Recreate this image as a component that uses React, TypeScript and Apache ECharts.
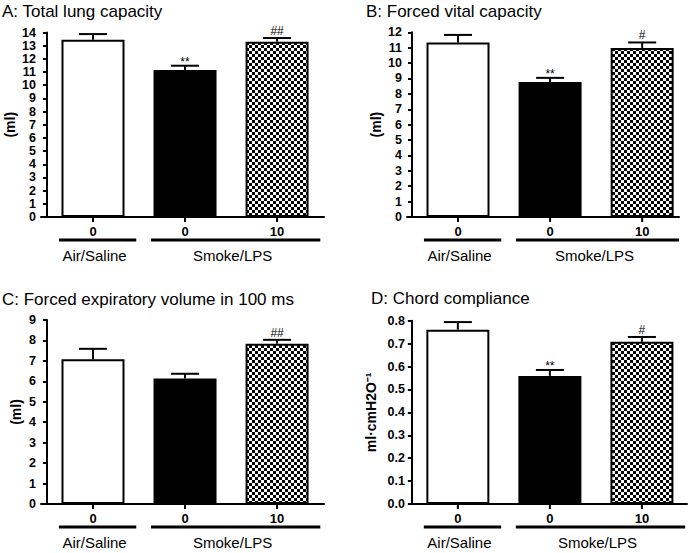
import React, { useEffect, useRef } from "react";
import * as echarts from "echarts";

// ---------- data ----------
const categories = ["0", "0", "10"];
const groupNames = ["Air/Saline", "Smoke/LPS"];
const groupFirstCat = [0, 1];
const groupLastCat = [0, 2];

const panelTitles = [
  "A: Total lung capacity",
  "B: Forced vital capacity",
  "C: Forced expiratory volume in 100 ms",
  "D: Chord compliance",
];
const yAxisNames = ["(ml)", "(ml)", "(ml)", "ml·cmH2O⁻¹"];
const yMaxes = [14, 12, 9, 0.8];
const ySteps = [1, 1, 1, 0.1];

const tlcMean = [13.45, 11.15, 13.3];
const tlcSem = [0.43, 0.33, 0.28];
const tlcSig = ["", "**", "##"];

const fvcMean = [11.33, 8.77, 10.98];
const fvcSem = [0.5, 0.27, 0.36];
const fvcSig = ["", "**", "#"];

const fevMean = [7.08, 6.14, 7.84];
const fevSem = [0.51, 0.23, 0.19];
const fevSig = ["", "", "##"];

const ccMean = [0.761, 0.559, 0.708];
const ccSem = [0.033, 0.026, 0.021];
const ccSig = ["", "**", "#"];

const panelMeans = [tlcMean, fvcMean, fevMean, ccMean];
const panelSems = [tlcSem, fvcSem, fevSem, ccSem];
const panelSigs = [tlcSig, fvcSig, fevSig, ccSig];

// ---------- layout / style ----------
const FONT = "'Liberation Sans', Arial, Helvetica, sans-serif";
const layouts = [
  { left: 41, top: 32.5, width: 283, height: 184.5, xMin: -0.065, xMax: 3.01, titleLeft: 2, titleTop: 3, nameGap: 24 },
  { left: 407, top: 32.3, width: 272, height: 184.7, xMin: -0.054, xMax: 2.9, titleLeft: 366, titleTop: 3, nameGap: 24 },
  { left: 41, top: 320, width: 283, height: 184, xMin: -0.065, xMax: 3.01, titleLeft: 2, titleTop: 290.5, nameGap: 18 },
  { left: 410, top: 320.7, width: 277, height: 183.3, xMin: -0.02, xMax: 2.99, titleLeft: 371, titleTop: 290, nameGap: 32 },
];

function makeChecker(): HTMLCanvasElement {
  const c = document.createElement("canvas");
  c.width = 6;
  c.height = 6;
  const ctx = c.getContext("2d")!;
  ctx.fillStyle = "#fff";
  ctx.fillRect(0, 0, 6, 6);
  ctx.fillStyle = "#000";
  ctx.fillRect(0, 0, 3, 3);
  ctx.fillRect(3, 3, 3, 3);
  return c;
}

export default function App() {
  const ref = useRef<HTMLDivElement>(null);

  useEffect(() => {
    document.body.style.margin = "0";
    if (!ref.current) return;
    const chart = echarts.init(ref.current, null, { renderer: "svg" });
    const checker = makeChecker();
    const barStyles: any[] = [
      { color: "#fff", borderColor: "#000", borderWidth: 2 },
      { color: "#000", borderColor: "#000", borderWidth: 2 },
      {
        color: { image: checker, repeat: "repeat", imageWidth: 6, imageHeight: 6 },
        borderColor: "#000",
        borderWidth: 2,
      },
    ];

    const grids: any[] = [];
    const xAxes: any[] = [];
    const yAxes: any[] = [];
    const titles: any[] = [];
    const series: any[] = [];

    layouts.forEach((L, i) => {
      grids.push({ left: L.left, top: L.top, width: L.width, height: L.height, containLabel: false });
      titles.push({
        text: panelTitles[i],
        left: L.titleLeft,
        top: L.titleTop,
        padding: 0,
        textStyle: { fontSize: 17, fontWeight: "normal", fontFamily: FONT, color: "#000" },
      });
      xAxes.push({
        type: "value",
        gridIndex: i,
        min: L.xMin,
        max: L.xMax,
        axisLine: { show: true, onZero: false, lineStyle: { color: "#000", width: 2 } },
        axisTick: { show: false },
        axisLabel: { show: false },
        splitLine: { show: false },
      });
      yAxes.push({
        type: "value",
        gridIndex: i,
        min: 0,
        max: yMaxes[i],
        interval: ySteps[i],
        axisLine: { show: true, lineStyle: { color: "#000", width: 2 } },
        axisTick: { show: true, length: 4, lineStyle: { color: "#000", width: 2 } },
        axisLabel: {
          color: "#000",
          fontWeight: "bold",
          fontSize: 12.5,
          lineHeight: 12,
          fontFamily: FONT,
          margin: 5,
          formatter: (v: number) => (ySteps[i] < 1 ? v.toFixed(1) : String(Math.round(v))),
        },
        splitLine: { show: false },
        name: yAxisNames[i],
        nameLocation: "middle",
        nameGap: L.nameGap,
        nameTextStyle: { color: "#000", fontWeight: "bold", fontSize: 14, fontFamily: FONT },
      });

      const means = panelMeans[i];
      const sems = panelSems[i];
      const sigs = panelSigs[i];

      // bars
      series.push({
        type: "bar",
        xAxisIndex: i,
        yAxisIndex: i,
        barWidth: 63,
        silent: true,
        data: means.map((v, k) => ({ value: [k + 0.5, v], itemStyle: barStyles[k] })),
      });

      // error bars + significance marks
      series.push({
        type: "custom",
        xAxisIndex: i,
        yAxisIndex: i,
        silent: true,
        z: 5,
        data: means.map((v, k) => [k + 0.5, v, v + sems[k]]),
        renderItem: (params: any, api: any) => {
          const x = api.value(0);
          const base = api.coord([x, api.value(1)]);
          const top = api.coord([x, api.value(2)]);
          const s = sigs[params.dataIndex];
          const children: any[] = [
            {
              type: "line",
              shape: { x1: base[0], y1: base[1], x2: top[0], y2: top[1] },
              style: { stroke: "#000", lineWidth: 2 },
            },
            {
              type: "line",
              shape: { x1: top[0] - 14, y1: top[1], x2: top[0] + 14, y2: top[1] },
              style: { stroke: "#000", lineWidth: 2 },
            },
          ];
          if (s) {
            children.push({
              type: "text",
              style: {
                text: s,
                x: top[0],
                y: top[1] - (s.indexOf("*") >= 0 ? 4 : 7),
                align: "center",
                verticalAlign: "middle",
                fontSize: 12,
                fontFamily: FONT,
                fill: "#000",
              },
            });
          }
          return { type: "group", children };
        },
      });

      // category ticks and labels below the x axis
      series.push({
        type: "custom",
        xAxisIndex: i,
        yAxisIndex: i,
        silent: true,
        data: categories.map((c, k) => [k + 0.5, 0]),
        renderItem: (params: any, api: any) => {
          const p = api.coord([api.value(0), 0]);
          return {
            type: "group",
            children: [
              {
                type: "line",
                shape: { x1: p[0], y1: p[1], x2: p[0], y2: p[1] + 5 },
                style: { stroke: "#000", lineWidth: 2 },
              },
              {
                type: "text",
                style: {
                  text: categories[params.dataIndex],
                  x: p[0],
                  y: p[1] + 14,
                  align: "center",
                  verticalAlign: "middle",
                  fontSize: 13,
                  fontWeight: "bold",
                  fontFamily: FONT,
                  fill: "#000",
                },
              },
            ],
          };
        },
      });

      // group underlines and names
      series.push({
        type: "custom",
        xAxisIndex: i,
        yAxisIndex: i,
        silent: true,
        data: groupNames.map((g, k) => [
          groupFirstCat[k] + 0.5 - 0.37,
          Math.min(groupLastCat[k] + 0.5 + 0.47, L.xMax),
        ]),
        renderItem: (params: any, api: any) => {
          const a = api.coord([api.value(0), 0]);
          const b = api.coord([api.value(1), 0]);
          const lineY = a[1] + 23;
          return {
            type: "group",
            children: [
              {
                type: "line",
                shape: { x1: a[0], y1: lineY, x2: b[0], y2: lineY },
                style: { stroke: "#000", lineWidth: 3 },
              },
              {
                type: "text",
                style: {
                  text: groupNames[params.dataIndex],
                  x: (a[0] + b[0]) / 2 - 3,
                  y: a[1] + 38,
                  align: "center",
                  verticalAlign: "middle",
                  fontSize: 15,
                  fontFamily: FONT,
                  fill: "#000",
                },
              },
            ],
          };
        },
      });
    });

    chart.setOption({
      animation: false,
      backgroundColor: "#fff",
      title: titles,
      grid: grids,
      xAxis: xAxes,
      yAxis: yAxes,
      series,
    });

    return () => chart.dispose();
  }, []);

  return <div ref={ref} style={{ width: 691, height: 553 }} />;
}
